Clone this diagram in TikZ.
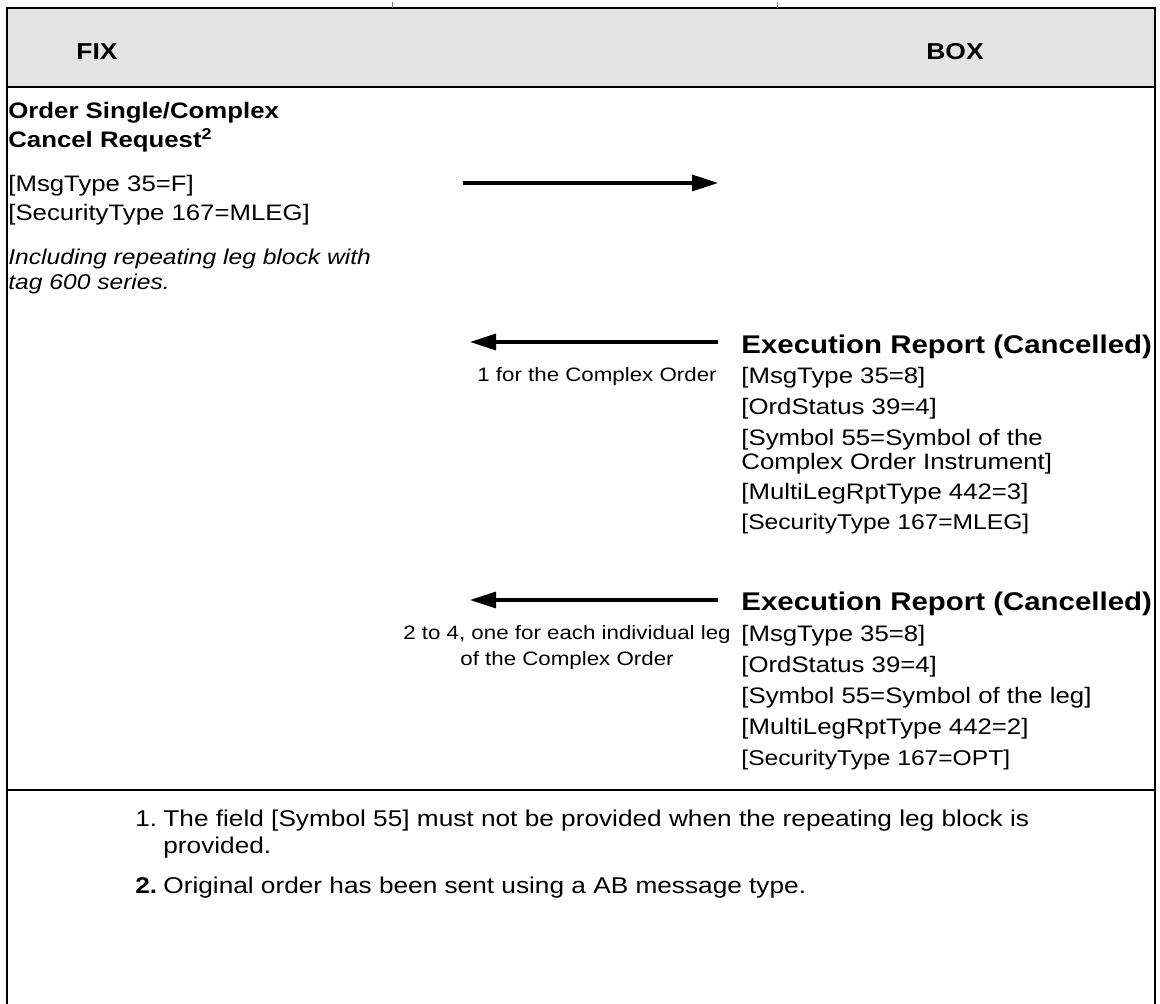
\documentclass[tikz,border=0pt]{standalone}
\usepackage{fontspec}
\setmainfont{Liberation Sans}[FakeStretch=1.15]
\usepackage{tikz}
\usetikzlibrary{arrows.meta, positioning}
\definecolor{headgray}{RGB}{227,227,227}
\tikzstyle{arrow} = [line width=1.6pt, -{Triangle[length=13pt, width=8pt]}]
\tikzstyle{outline} = [line width=0.8pt]
\tikzstyle{sepline} = [line width=1.4pt]
\tikzstyle{headtext} = [font=\fontsize{11.5}{13}\selectfont\bfseries]
\tikzstyle{fieldtext} = [anchor=west, font=\fontsize{11.2}{12}\selectfont]
\tikzstyle{titletext} = [anchor=west, font=\fontsize{11.2}{14.5}\selectfont\bfseries]
\tikzstyle{reporttext} = [anchor=west, font=\fontsize{12.8}{14}\selectfont\bfseries]
\tikzstyle{smalltext} = [anchor=west, font=\fontsize{10.7}{12}\selectfont]
\tikzstyle{arrowlabel} = [align=center, font=\fontsize{9.7}{13}\selectfont]
\tikzstyle{foottext} = [anchor=north west, font=\fontsize{11.4}{13.5}\selectfont]

\begin{document}
\begin{tikzpicture}[x=0.5pt, y=-0.5pt, every node/.style={inner sep=0pt, align=left}]
    \useasboundingbox (0,0) rectangle (1160,1004);

    % table frame
    \fill[headgray] (7,8) rectangle (1155,87);
    \draw[outline] (7,1004) -- (7,8) -- (1155,8) -- (1155,1004);
    \draw[sepline] (7,87) -- (1155,87);
    \draw[sepline] (7,790) -- (1155,790);
    \draw[gray, line width=0.4pt] (392,2) -- (392,8) (777,2) -- (777,8);

    \node[headtext] (fix) at (97,52) {FIX};
    \node[headtext] (box) at (955,52) {BOX};

    % request
    \node[titletext] (req) at (8,127) {Order Single/Complex\\Cancel Request\textsuperscript{2}};
    \node[fieldtext] (reqmsg) at (8,186) {[MsgType 35=F]};
    \node[fieldtext] (reqsec) at (8,215) {[SecurityType 167=MLEG]};
    \node[smalltext, font=\fontsize{10.7}{12.5}\selectfont\itshape] (reqleg) at (8,271) {Including repeating leg block with\\tag 600 series.};

    \coordinate (reqA) at (463,183);
    \coordinate (reqB) at (718,183);
    \draw[arrow] (reqA) -- (reqB);

    % report for the complex order
    \coordinate (rep1A) at (718,342);
    \coordinate (rep1B) at (470,342);
    \draw[arrow] (rep1A) -- (rep1B);
    \node[arrowlabel] (rep1lbl) at (597,376) {1 for the Complex Order};

    \node[reporttext] (rep1) at (741,347) {Execution Report (Cancelled)};
    \node[fieldtext] (rep1msg) at (741,378) {[MsgType 35=8]};
    \node[fieldtext] (rep1ord) at (741,409) {[OrdStatus 39=4]};
    \node[fieldtext] (rep1sym) at (741,452) {[Symbol 55=Symbol of the\\Complex Order Instrument]};
    \node[fieldtext] (rep1rpt) at (741,494) {[MultiLegRptType 442=3]};
    \node[smalltext] (rep1sec) at (741,524) {[SecurityType 167=MLEG]};

    % reports for the legs
    \coordinate (rep2A) at (718,600);
    \coordinate (rep2B) at (470,600);
    \draw[arrow] (rep2A) -- (rep2B);
    \node[arrowlabel] (rep2lbl) at (567,647) {2 to 4, one for each individual leg\\of the Complex Order};

    \node[reporttext] (rep2) at (741,604) {Execution Report (Cancelled)};
    \node[fieldtext] (rep2msg) at (741,636) {[MsgType 35=8]};
    \node[fieldtext] (rep2ord) at (741,667) {[OrdStatus 39=4]};
    \node[fieldtext] (rep2sym) at (741,698) {[Symbol 55=Symbol of the leg]};
    \node[fieldtext] (rep2rpt) at (741,729) {[MultiLegRptType 442=2]};
    \node[smalltext] (rep2sec) at (741,760) {[SecurityType 167=OPT]};

    % notes
    \node[foottext] (n1) at (135,810) {1.};
    \node[foottext] (n1txt) at (163,810) {The field [Symbol 55] must not be provided when the repeating leg block is\\provided.};
    \node[foottext, font=\fontsize{11.4}{13.5}\selectfont\bfseries] (n2) at (135,877) {2.};
    \node[foottext] (n2txt) at (163,877) {Original order has been sent using a AB message type.};
\end{tikzpicture}
\end{document}
